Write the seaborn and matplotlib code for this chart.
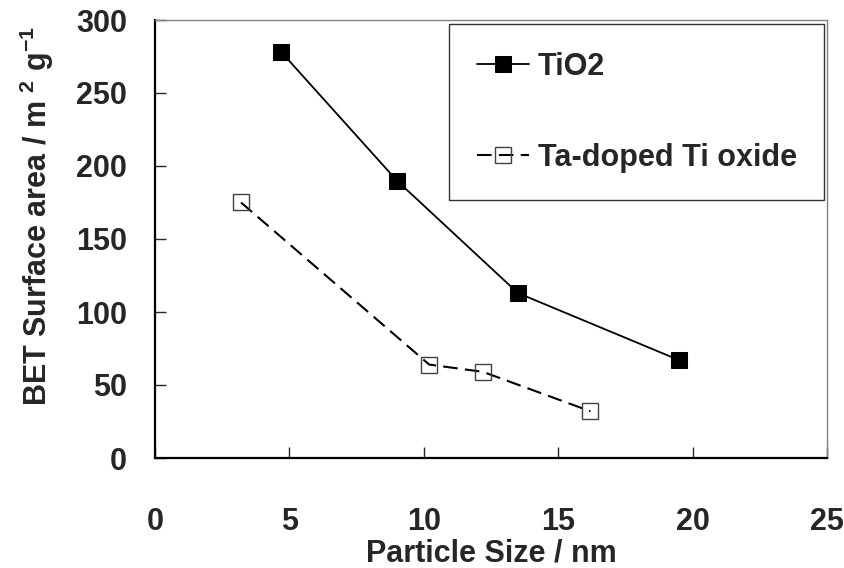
import matplotlib
matplotlib.use("Agg")
import matplotlib.pyplot as plt
import seaborn as sns

# data
tio2_size = [4.7, 9.0, 13.5, 19.5]
tio2_bet = [278, 190, 113, 67]
ta_size = [3.2, 10.2, 12.2, 16.2]
ta_bet = [175, 64, 59, 32]

sns.set_style("ticks")
plt.rcParams['font.family'] = ['Liberation Sans', 'DejaVu Sans']
plt.rcParams['font.weight'] = 'bold'
plt.rcParams['axes.unicode_minus'] = False
plt.rcParams['mathtext.fontset'] = 'custom'
plt.rcParams['mathtext.rm'] = 'Liberation Sans:bold'
plt.rcParams['mathtext.it'] = 'Liberation Sans:bold'
plt.rcParams['mathtext.bf'] = 'Liberation Sans:bold'

fs = 22

fig = plt.figure(figsize=(8.45, 5.68), dpi=100)
ax = fig.add_axes([155 / 845, 110 / 568, 672 / 845, 438 / 568])

sns.lineplot(x=tio2_size, y=tio2_bet, ax=ax, color='black', lw=1.3,
             marker='s', markersize=11, markerfacecolor='black',
             markeredgecolor='black', label='TiO2')
sns.lineplot(x=ta_size, y=ta_bet, ax=ax, color='black', lw=1.5,
             linestyle=(0, (7, 3.5)), marker='s', markersize=11,
             markerfacecolor='none', markeredgecolor='#404040',
             markeredgewidth=1, label='Ta-doped Ti oxide')

ax.set_xlim(0, 25)
ax.set_ylim(0, 300)
ax.set_xticks(range(0, 26, 5))
ax.set_yticks(range(0, 301, 50))
ax.tick_params(direction='in', length=8, width=1, labelsize=fs)
ax.tick_params(axis='x', pad=35)
ax.tick_params(axis='y', pad=20)

for s in ['left', 'bottom']:
    ax.spines[s].set_color('black')
    ax.spines[s].set_linewidth(1.6)
for s in ['top', 'right']:
    ax.spines[s].set_color('#808080')
    ax.spines[s].set_linewidth(1.0)

ax.set_xlabel('Particle Size / nm', fontsize=fs, fontweight='bold', labelpad=1)
ax.set_ylabel(r'BET Surface area / m $^{2}$ g$^{-1}$', fontsize=fs,
              fontweight='bold')
ax.yaxis.set_label_coords(-0.148, 0.553)

leg = ax.legend(loc='upper right', bbox_to_anchor=(0.996, 0.99),
                fontsize=fs, frameon=True, fancybox=False,
                labelspacing=2.0, borderpad=0.9, handlelength=1.7,
                handletextpad=0.3, borderaxespad=0)
leg.get_frame().set_edgecolor('black')
leg.get_frame().set_linewidth(1.0)
for t in leg.get_texts():
    t.set_fontweight('bold')

fig.savefig('out.png', dpi=100)
